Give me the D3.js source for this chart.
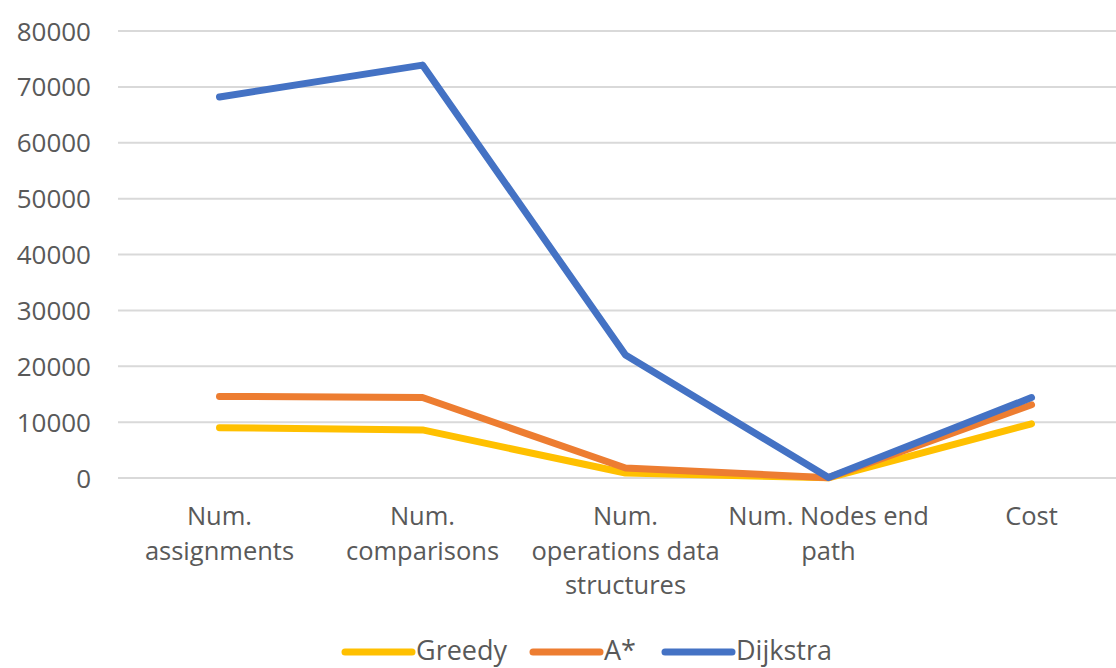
<!DOCTYPE html>
<html>
<head>
<meta charset="utf-8">
<script src="https://cdn.jsdelivr.net/npm/d3@7"></script>
<style>
  body { margin: 0; background: #fff; }
  svg text { font-family: "Open Sans", "Liberation Sans", sans-serif; fill: #595959; }
</style>
</head>
<body>
<svg id="chart" width="1116" height="668"></svg>
<script>
const categories = [
  ["Num.", "assignments"],
  ["Num.", "comparisons"],
  ["Num.", "operations data", "structures"],
  ["Num. Nodes end", "path"],
  ["Cost"]
];
const greedy = [9000, 8600, 900, 40, 9700];
const astar = [14600, 14400, 1800, 60, 13100];
const dijkstra = [68200, 73900, 22000, 80, 14400];
const yTicks = [0, 10000, 20000, 30000, 40000, 50000, 60000, 70000, 80000];

const series = [
  { name: "Greedy", values: greedy, color: "#FFC000" },
  { name: "A*", values: astar, color: "#ED7D31" },
  { name: "Dijkstra", values: dijkstra, color: "#4472C4" }
];

const svg = d3.select("#chart");

const plotLeft = 118;
const bandW = 203;
const plotTop = 31;
const plotBottom = 478;

const x = d3.scalePoint()
  .domain(d3.range(categories.length))
  .range([plotLeft, plotLeft + bandW * categories.length])
  .padding(0.5);

const y = d3.scaleLinear()
  .domain([0, 80000])
  .range([plotBottom, plotTop]);

// gridlines
svg.append("g")
  .selectAll("line")
  .data(yTicks)
  .join("line")
  .attr("x1", plotLeft)
  .attr("x2", 1116)
  .attr("y1", d => y(d))
  .attr("y2", d => y(d))
  .attr("stroke", "#d9d9d9")
  .attr("stroke-width", 2);

// y axis labels
let yAxis = d3.axisLeft(y)
  .tickValues(yTicks)
  .tickFormat(d3.format("d"))
  .tickSize(0)
  .tickPadding(0);

let axis_g = svg.append("g")
  .attr("transform", "translate(" + 91 + ",0)")
  .call(yAxis);
axis_g.select(".domain").remove();
axis_g.selectAll("text")
  .attr("font-size", 26)
  .attr("fill", "#595959")
  .attr("font-family", "\"Open Sans\", sans-serif")
  .attr("dy", ".35em");

// category labels (wrapped lines)
let cat_g = svg.append("g");
categories.forEach((lines, i) => {
  let t = cat_g.append("text")
    .attr("text-anchor", "middle")
    .attr("font-size", 25.5)
    .attr("x", x(i))
    .attr("y", 525);
  lines.forEach((ln, j) => {
    t.append("tspan")
      .attr("x", x(i))
      .attr("dy", j === 0 ? 0 : 34.5)
      .text(ln);
  });
});

// lines
const line = d3.line()
  .x((d, i) => x(i))
  .y(d => y(d));

svg.append("g")
  .selectAll("path")
  .data(series)
  .join("path")
  .attr("d", d => line(d.values))
  .attr("fill", "none")
  .attr("stroke", d => d.color)
  .attr("stroke-width", 7)
  .attr("stroke-linejoin", "round")
  .attr("stroke-linecap", "round");

// legend
const legendX = [345, 533, 665];
let leg = svg.append("g");
series.forEach((s, i) => {
  leg.append("line")
    .attr("x1", legendX[i])
    .attr("x2", legendX[i] + 67)
    .attr("y1", 652)
    .attr("y2", 652)
    .attr("stroke", s.color)
    .attr("stroke-width", 7)
    .attr("stroke-linecap", "round");
  leg.append("text")
    .attr("x", legendX[i] + 71)
    .attr("y", 651)
    .attr("dy", ".33em")
    .attr("font-size", 27)
    .text(s.name);
});
</script>
</body>
</html>
